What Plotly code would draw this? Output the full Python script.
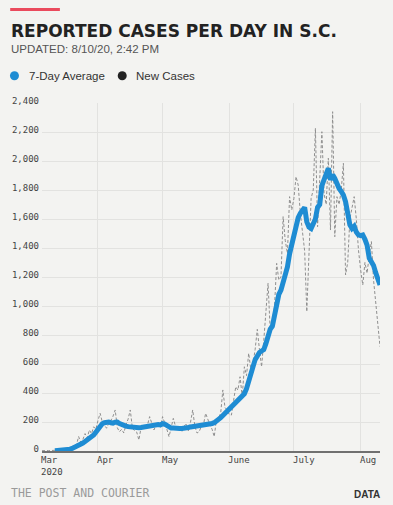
import pandas as pd
import plotly.graph_objects as go

# ---------------- data ----------------
start_date = "2020-03-06"
end_date = "2020-08-10"

new_cases = [
    2, 0, 3, 2, 3, 3, 1, 6, 9, 5,
    10, 13, 14, 20, 30, 45, 40, 100, 60, 80,
    120, 90, 145, 120, 167, 150, 210, 260, 200, 175,
    157, 190, 210, 240, 283, 160, 133, 150, 124, 180,
    220, 283, 157, 140, 130, 76, 160, 170, 175, 180,
    237, 190, 145, 180, 175, 165, 237, 200, 150, 99,
    160, 225, 170, 145, 150, 133, 170, 190, 140, 200,
    283, 170, 124, 133, 170, 180, 260, 214, 180, 150,
    99, 214, 230, 260, 421, 300, 283, 250, 248, 350,
    443, 420, 512, 374, 581, 520, 674, 560, 600, 700,
    839, 700, 581, 760, 1000, 1157, 834, 900, 995, 1294,
    1179, 1200, 1616, 1450, 1363, 1754, 1662, 1740, 1892, 1834,
    1640, 1524, 1380, 961, 1400, 1743, 1800, 2226, 1547, 1900,
    2202, 1777, 1700, 2019, 1524, 2340, 1478, 1754, 1700, 1800,
    1984, 1214, 1300, 1600, 1685, 1754, 1600, 1386, 1250, 1145,
    1300, 1226, 1350, 1444, 1180, 1020, 880, 720,
]

seven_day_avg = [
    None, None, None, None, None, None,
    2, 3, 4, 4, 6, 8, 10, 13, 18, 24, 28, 40, 45, 55,
    65, 75, 85, 95, 110, 130, 150, 170, 188, 195,
    198, 200, 195, 192, 198, 200, 190, 182, 178, 172,
    168, 165, 162, 160, 158, 160, 162, 165, 168, 165,
    172, 178, 182, 180, 182, 180, 188, 185, 175, 165,
    158, 158, 160, 158, 156, 155, 155, 158, 162, 166,
    168, 170, 168, 170, 172, 175, 178, 180, 186, 190,
    195, 205, 214, 230, 245, 260, 275, 290, 305, 315,
    328, 345, 363, 380, 395, 430, 490, 540, 580, 630,
    660, 680, 690, 700, 740, 810, 840, 860, 950, 1040,
    1080, 1110, 1160, 1220, 1270, 1360, 1420, 1480, 1560, 1610,
    1640, 1660, 1680, 1580, 1545, 1535, 1565, 1600, 1680, 1700,
    1830, 1880, 1920, 1950, 1870, 1905, 1880, 1840, 1810, 1790,
    1765, 1720, 1610, 1560, 1535, 1550, 1510, 1490, 1485, 1490,
    1460, 1420, 1330, 1300, 1280, 1230, 1190, 1145,
]

y_ticks = list(range(0, 2401, 200))
month_ticks = ["2020-03-06", "2020-04-01", "2020-05-01", "2020-06-01", "2020-07-01", "2020-08-01"]
month_labels = ["Mar<br>2020", "Apr", "May", "June", "July", "Aug"]

title_text = "REPORTED CASES PER DAY IN S.C."
subtitle_text = "UPDATED: 8/10/20, 2:42 PM"
series_names = ["7-Day Average", "New Cases"]
series_colors = ["#1e8cd3", "#222222"]

dates = pd.date_range(start_date, end_date, freq="D")

# ---------------- figure ----------------
BG = "#f3f3f1"
W, H = 393, 505
ML, MR, MT, MB = 40, 13, 103, 54
PW, PH = W - ML - MR, H - MT - MB


def px_x(p):
    return (p - ML) / PW


def px_y(p):
    return (H - MB - p) / PH


fig = go.Figure()
fig.add_trace(go.Scatter(
    x=dates, y=new_cases, mode="lines", name=series_names[1],
    line=dict(color="#8f8f8f", width=1, dash="3px,2px"),
    showlegend=False, hoverinfo="skip",
))
fig.add_trace(go.Scatter(
    x=dates, y=seven_day_avg, mode="lines", name=series_names[0],
    line=dict(color=series_colors[0], width=5),
    showlegend=False, hoverinfo="skip",
))

fig.update_layout(
    width=W, height=H,
    margin=dict(l=ML, r=MR, t=MT, b=MB),
    paper_bgcolor=BG, plot_bgcolor=BG,
    showlegend=False,
    xaxis=dict(
        type="date", range=[start_date, end_date],
        tickvals=month_ticks, showticklabels=False,
        showgrid=True, gridcolor="#e2e2e0", gridwidth=1,
        showline=True, linecolor="#707070", linewidth=1.5,
        zeroline=False, ticks="",
    ),
    yaxis=dict(
        range=[0, 2400], tickvals=y_ticks, tickformat=",",
        showgrid=True, gridcolor="#e2e2e0", gridwidth=1,
        zeroline=False, showline=False, ticks="",
        tickfont=dict(family="DejaVu Sans Mono", size=9, color="#444"),
        ticklabelstandoff=2, ticklabelshift=-2,
    ),
)

annotations = []
# x tick labels, left aligned at each tick
for d, lab in zip(month_ticks, month_labels):
    annotations.append(dict(
        x=d, xref="x", y=0, yref="paper", yshift=-2, xshift=-3,
        text=lab, showarrow=False, xanchor="left", yanchor="top", align="left",
        font=dict(family="DejaVu Sans Mono", size=9, color="#444"),
    ))

# title, subtitle
annotations.append(dict(
    x=px_x(7), y=px_y(30.5), xref="paper", yref="paper", xanchor="left", yanchor="middle",
    text=f"<b>{title_text}</b>", showarrow=False,
    font=dict(family="DejaVu Sans", size=17, color="#222"),
))
annotations.append(dict(
    x=px_x(7), y=px_y(49.5), xref="paper", yref="paper", xanchor="left", yanchor="middle",
    text=subtitle_text, showarrow=False,
    font=dict(family="Liberation Sans", size=11.5, color="#555"),
))
# legend
legend_circle_x = [12.3, 120.7]
legend_text_x = [24.5, 132.5]
for name, cx, tx, col in zip(series_names, legend_circle_x, legend_text_x, series_colors):
    annotations.append(dict(
        x=px_x(tx), y=px_y(75.7), xref="paper", yref="paper", xanchor="left", yanchor="middle",
        text=name, showarrow=False,
        font=dict(family="Liberation Sans", size=11.5, color="#333"),
    ))
# footer
annotations.append(dict(
    x=px_x(7), y=px_y(493), xref="paper", yref="paper", xanchor="left", yanchor="middle",
    text="THE POST AND COURIER", showarrow=False,
    font=dict(family="DejaVu Sans Mono", size=11.5, color="#9a9a9a"),
))
annotations.append(dict(
    x=px_x(382), y=px_y(494.5), xref="paper", yref="paper", xanchor="right", yanchor="middle",
    text="<b>DATA</b>", showarrow=False,
    font=dict(family="Liberation Sans", size=10, color="#333"),
))

shapes = [
    dict(type="rect", xref="paper", yref="paper",
         x0=px_x(8), x1=px_x(58), y0=px_y(11), y1=px_y(8),
         fillcolor="#ea4a5d", line=dict(width=0)),
]
for cx, col in zip(legend_circle_x, series_colors):
    shapes.append(dict(
        type="circle", xref="paper", yref="paper",
        xsizemode="pixel", ysizemode="pixel",
        xanchor=px_x(cx), yanchor=px_y(75.7),
        x0=-4.5, x1=4.5, y0=-4.5, y1=4.5,
        fillcolor=col, line=dict(width=0),
    ))

fig.update_layout(annotations=annotations, shapes=shapes)
fig.write_html(
    "out.html",
    config={"displayModeBar": False},
    post_script="document.body.style.margin='0';document.body.style.background='%s';" % BG,
)
